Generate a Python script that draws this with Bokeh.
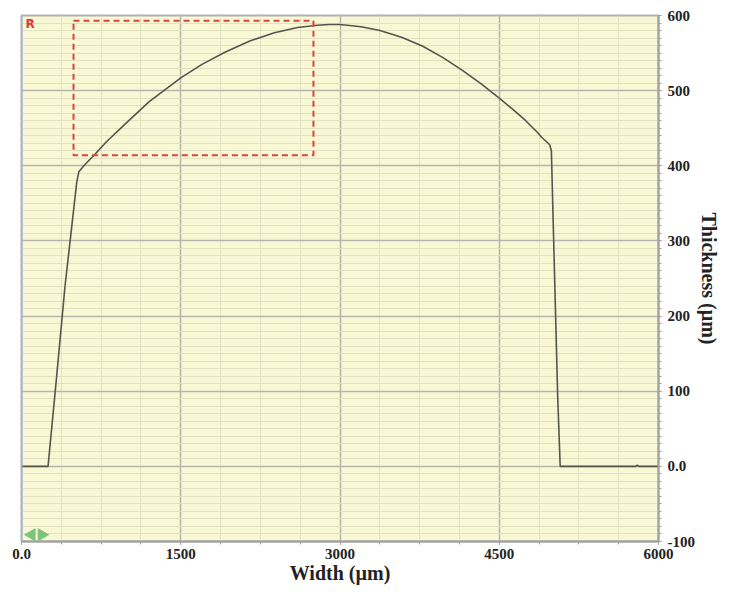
from bokeh.plotting import figure
from bokeh.models import FixedTicker, Span, Label, Range1d
from bokeh.embed import file_html
from bokeh.resources import INLINE
import math

# ---- data ----
width_um = [0, 100, 250, 330, 410, 470, 520, 540, 600, 690, 800, 988, 1200, 1500,
            1700, 1916, 2150, 2382, 2600, 2786, 2900, 3000, 3200, 3376, 3580, 3780,
            3970, 4153, 4330, 4500, 4620, 4742, 4820, 4870, 4898, 4930, 4954, 4975, 4991,
            5010, 5030, 5050, 5074, 5300, 5600, 5785, 5800, 5815, 6000]
thickness_um = [0, 0, 0, 118, 240, 315, 378, 392, 402, 415, 432, 457, 485, 517,
                535, 551, 566, 577, 584, 587, 588, 588, 585, 580, 571, 559,
                544, 527, 509, 490, 476, 461, 450, 443, 438, 434, 431, 428, 420,
                315, 205, 95, 0, 0, 0, 0, 1.5, 0, 0]

x_ticks = [0, 1500, 3000, 4500, 6000]
y_ticks = [-100, 0, 100, 200, 300, 400, 500, 600]

# region of interest rectangle (µm)
roi_x = [490, 2750]
roi_y = [414, 593]

# navigation arrows (decoration)
arrow_x = [95, 190]
arrow_y = [-91, -91]
arrow_angle = [math.pi / 2, -math.pi / 2]

SERIF = "Liberation Serif"

p = figure(width=722, height=586, output_backend="svg", toolbar_location=None,
           x_range=Range1d(0, 6000), y_range=Range1d(-100, 600),
           y_axis_location="right", min_border_left=21, min_border_top=15,
           min_border_right=10, min_border_bottom=10)

p.background_fill_color = "#f8f8d4"
p.border_fill_color = "white"
p.outline_line_color = "#b0b0b0"
p.outline_line_width = 2

# axes
p.xaxis.ticker = FixedTicker(ticks=x_ticks,
                             minor_ticks=[i * 375 for i in range(17)])
p.yaxis.ticker = FixedTicker(ticks=y_ticks,
                             minor_ticks=[-100 + i * 10 for i in range(71)])
p.xaxis.major_label_overrides = {0: "0.0"}
p.yaxis.major_label_overrides = {0: "0.0", -100: "-100"}

for ax in (p.xaxis[0], p.yaxis[0]):
    ax.axis_line_color = "#a0a0a0"
    ax.axis_line_width = 2
    ax.major_tick_line_color = "#a0a0a0"
    ax.minor_tick_line_color = "#a0a0a0"
    ax.major_tick_in = 0
    ax.minor_tick_in = 0
    ax.major_tick_out = 3
    ax.minor_tick_out = 3
    ax.major_label_text_font = SERIF
    ax.major_label_text_font_style = "bold"
    ax.major_label_text_font_size = "15px"
    ax.major_label_text_color = "#222222"
    ax.axis_label_text_font = SERIF
    ax.axis_label_text_font_style = "bold"
    ax.axis_label_text_font_size = "20px"
    ax.axis_label_text_color = "#222222"

p.xaxis.axis_label = "Width (µm)"
p.yaxis.axis_label = "Thickness (µm)"
p.xaxis.major_label_standoff = 4
p.xaxis.axis_label_standoff = 0
p.yaxis.major_label_standoff = 6
p.yaxis.axis_label_standoff = 0

# grids
for g in (p.xgrid[0], p.ygrid[0]):
    g.grid_line_color = "#b4b6ae"
    g.grid_line_width = 1.5
    g.minor_grid_line_color = "#e2e2c2"
    g.minor_grid_line_width = 1

# left edge line
p.add_layout(Span(location=0, dimension="height", line_color="#9fb8d8", line_width=2))

# curve
p.line(width_um, thickness_um, line_color="#555550", line_width=1.6)

# dashed region of interest
p.quad(left=[roi_x[0]], right=[roi_x[1]], bottom=[roi_y[0]], top=[roi_y[1]],
       fill_color=None, line_color="#d9443f", line_width=2, line_dash="6 4")

# navigation arrows
p.scatter(arrow_x, arrow_y, marker="triangle", size=12, angle=arrow_angle,
          fill_color="#7cc47c", line_color="#7cc47c")

# R marker
p.add_layout(Label(x=0, y=600, x_offset=4, y_offset=-15, text="R",
                   text_color="#e03a3a", text_font="DejaVu Sans",
                   text_font_style="bold", text_font_size="12px"))

open("out.html", "w").write(file_html(p, INLINE))
